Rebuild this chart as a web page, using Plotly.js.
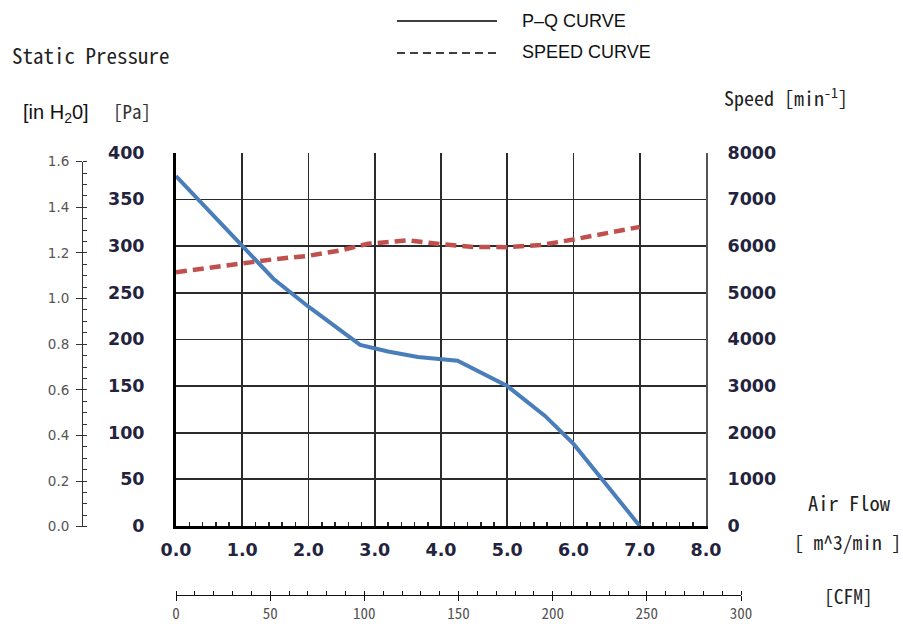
<!DOCTYPE html>
<html>
<head>
<meta charset="utf-8">
<script src="https://cdn.plot.ly/plotly-3.0.1.min.js"></script>
<style>html,body{margin:0;padding:0;background:#fff;}#chart{width:903px;height:624px;}</style>
</head>
<body>
<div id="chart"></div>
<script>
// P-Q curve: air flow [m^3/min] vs static pressure [Pa]
const pqFlow = [0, 1.0, 1.47, 2.0, 2.78, 3.2, 3.65, 4.25, 5.0, 5.57, 6.0, 7.0];
const pqPressure = [375, 300, 265, 235, 194, 187, 181, 177, 150, 118, 88, 0];
// Speed curve: air flow [m^3/min] vs speed [min^-1]
const spFlow = [0, 0.5, 1.0, 1.5, 2.0, 2.5, 2.9, 3.2, 3.5, 4.0, 4.5, 5.0, 5.5, 6.0, 6.5, 7.0];
const spSpeed = [5440, 5540, 5640, 5720, 5790, 5910, 6050, 6090, 6120, 6040, 5980, 5975, 6020, 6140, 6270, 6410];
// axis ranges
const flowRange = [0, 8];
const paRange = [0, 400];
const speedRange = [0, 8000];
const inH2ORange = [0, 1.6];
const cfmRange = [0, 300];
const legendLabels = ['P\u2013Q CURVE', 'SPEED CURVE'];

const W = 903, H = 624;
const px = v => v / W;
const py = v => (H - v) / H;

const gothic = '"Noto Sans Mono CJK JP", "Noto Sans Mono CJK SC", "DejaVu Sans Mono", monospace';
const tickBold = {family: '"DejaVu Sans", Verdana, sans-serif', size: 17.5, color: '#23233d', weight: 'bold'};

const traces = [
  {x: pqFlow, y: pqPressure, type: 'scatter', mode: 'lines', xaxis: 'x', yaxis: 'y',
   line: {color: '#4a7ebb', width: 4}, showlegend: false, hoverinfo: 'skip'},
  {x: spFlow, y: spSpeed, type: 'scatter', mode: 'lines', xaxis: 'x', yaxis: 'y2',
   line: {color: '#c0504d', width: 4.5, dash: '11px,6px'}, showlegend: false, hoverinfo: 'skip'},
  // empty trace so the unit-conversion axes (CFM, inH2O) get drawn
  {x: [], y: [], type: 'scatter', mode: 'lines', xaxis: 'x2', yaxis: 'y3', showlegend: false, hoverinfo: 'skip'}
];

const layout = {
  width: W, height: H,
  margin: {l: 0, r: 0, t: 0, b: 0},
  paper_bgcolor: '#fff', plot_bgcolor: 'rgba(0,0,0,0)',
  showlegend: false,
  xaxis: {
    domain: [px(176), px(706)], range: flowRange, dtick: 1, tickformat: '.1f',
    showgrid: true, gridcolor: '#2b2b2b', gridwidth: 1.7,
    showline: true, linecolor: '#000', linewidth: 3,
    zeroline: false, ticks: '', tickfont: tickBold, ticklabelstandoff: 6,
    minor: {dtick: 0.2, ticks: 'inside', ticklen: 4, tickwidth: 1.5, tickcolor: '#222', showgrid: false},
    automargin: false, fixedrange: true
  },
  yaxis: {
    domain: [py(526), py(152.7)], range: paRange, dtick: 50,
    showgrid: true, gridcolor: '#2b2b2b', gridwidth: 1.7,
    showline: true, linecolor: '#000', linewidth: 3,
    zeroline: false, ticks: '', tickfont: tickBold, ticklabelstandoff: 25,
    automargin: false, fixedrange: true
  },
  yaxis2: {
    overlaying: 'y', side: 'right', range: speedRange, dtick: 1000,
    showgrid: false, showline: true, linecolor: '#555', linewidth: 2,
    zeroline: false, ticks: '', tickfont: tickBold, ticklabelstandoff: 16,
    automargin: false, fixedrange: true
  },
  yaxis3: {
    anchor: 'free', position: px(82), side: 'left',
    domain: [py(526.7), py(161.7)], range: inH2ORange, dtick: 0.2, tickformat: '.1f',
    showgrid: false, zeroline: false, showline: true, linecolor: '#333', linewidth: 1,
    ticks: 'outside', ticklen: 6, tickwidth: 1, tickcolor: '#333',
    minor: {dtick: 0.05, ticks: 'inside', ticklen: 4, tickwidth: 1, tickcolor: '#333'},
    tickfont: {family: '"DejaVu Sans", Verdana, sans-serif', size: 13.5, color: '#555'},
    ticklabelstandoff: 4,
    automargin: false, fixedrange: true
  },
  xaxis2: {
    anchor: 'free', position: py(595), side: 'bottom',
    domain: [px(176), px(741)], range: cfmRange, dtick: 50,
    showgrid: false, zeroline: false, showline: true, linecolor: '#111', linewidth: 1,
    ticks: 'outside', ticklen: 5, tickwidth: 1, tickcolor: '#111',
    minor: {dtick: 10, ticks: 'inside', ticklen: 4, tickwidth: 1, tickcolor: '#111'},
    tickfont: {family: gothic, size: 15, color: '#555'}, ticklabelstandoff: 0,
    automargin: false, fixedrange: true
  },
  shapes: [
    {type: 'line', xref: 'paper', yref: 'paper', x0: px(397), x1: px(497), y0: py(21), y1: py(21),
     line: {color: '#000', width: 1.3}},
    {type: 'line', xref: 'paper', yref: 'paper', x0: px(397), x1: px(500), y0: py(53), y1: py(53),
     line: {color: '#000', width: 1.3, dash: '8px,5px'}}
  ],
  annotations: [
    {text: legendLabels[0], x: px(520), y: py(21), xref: 'paper', yref: 'paper', xanchor: 'left', yanchor: 'middle',
     showarrow: false, font: {family: '"Liberation Sans", Arial, sans-serif', size: 18, color: '#111'}},
    {text: legendLabels[1], x: px(520), y: py(52), xref: 'paper', yref: 'paper', xanchor: 'left', yanchor: 'middle',
     showarrow: false, font: {family: '"Liberation Sans", Arial, sans-serif', size: 18, color: '#111'}},
    {text: 'Static Pressure', x: px(10), y: py(55), xref: 'paper', yref: 'paper', xanchor: 'left', yanchor: 'middle',
     showarrow: false, font: {family: gothic, size: 21, color: '#222'}},
    {text: '[in H<sub>2</sub>0]', x: px(21), y: py(113), xref: 'paper', yref: 'paper', xanchor: 'left', yanchor: 'middle',
     showarrow: false, font: {family: '"Liberation Sans", Arial, sans-serif', size: 20, color: '#111'}},
    {text: '[Pa]', x: px(111), y: py(110), xref: 'paper', yref: 'paper', xanchor: 'left', yanchor: 'middle',
     showarrow: false, font: {family: gothic, size: 19, color: '#333'}},
    {text: 'Speed [min<sup>-1</sup>]', x: px(722), y: py(97), xref: 'paper', yref: 'paper', xanchor: 'left', yanchor: 'middle',
     showarrow: false, font: {family: gothic, size: 20, color: '#222'}},
    {text: 'Air Flow', x: px(806), y: py(502), xref: 'paper', yref: 'paper', xanchor: 'left', yanchor: 'middle',
     showarrow: false, font: {family: gothic, size: 20.5, color: '#222'}},
    {text: '[ m^3/min ]', x: px(792), y: py(541), xref: 'paper', yref: 'paper', xanchor: 'left', yanchor: 'middle',
     showarrow: false, font: {family: gothic, size: 19.5, color: '#222'}},
    {text: '[CFM]', x: px(822), y: py(595), xref: 'paper', yref: 'paper', xanchor: 'left', yanchor: 'middle',
     showarrow: false, font: {family: gothic, size: 19.5, color: '#222'}}
  ]
};

Plotly.newPlot('chart', traces, layout, {staticPlot: true, displayModeBar: false});
</script>
</body>
</html>
